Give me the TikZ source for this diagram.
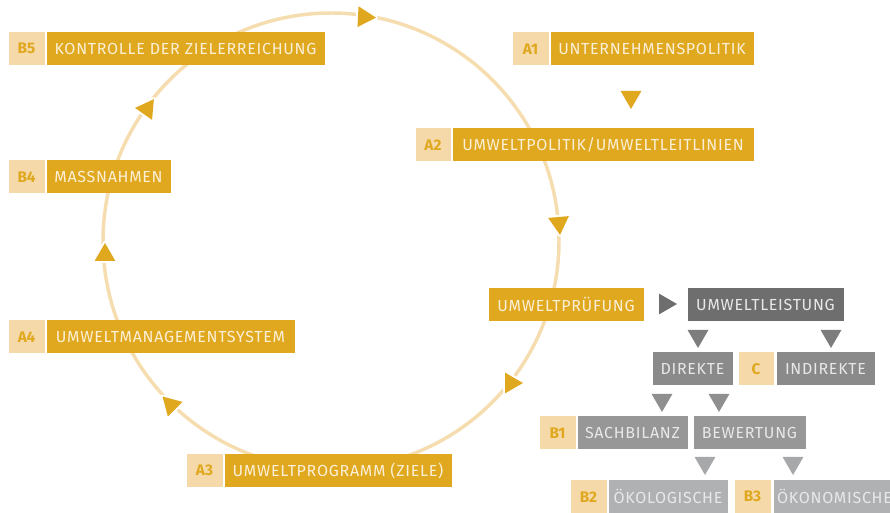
\documentclass[tikz,border=0pt]{standalone}
\usepackage{fontspec}
\setmainfont{Fira Sans}
\newfontfamily\boxfont{Fira Sans}[LetterSpace=4.5]
\definecolor{gold}{HTML}{E0A81F}
\definecolor{goldlight}{HTML}{F5D9A8}
\definecolor{ringcol}{HTML}{F6DDB0}
\definecolor{cream}{HTML}{FBEFD6}
\definecolor{grayA}{HTML}{6E6E6E}
\definecolor{grayB}{HTML}{8A8A8A}
\definecolor{grayC}{HTML}{979797}
\definecolor{grayD}{HTML}{B0B1B3}
\definecolor{grayT}{HTML}{E8E8E8}

\tikzset{every picture/.style={line width=0.75pt}}
\tikzset{
  box/.style={anchor=north west, inner sep=0pt, minimum height=32.5*0.75pt, font=\boxfont\fontsize{12}{14}\selectfont},
  w/.style={minimum width=#1*0.75pt},
  tag/.style={box, fill=goldlight, text=gold, font=\fontsize{11.5}{14}\selectfont\bfseries},
  goldbox/.style={box, fill=gold, text=cream},
  darkbox/.style={box, fill=grayA, text=grayT},
  midbox/.style={box, fill=grayB, text=grayT},
  greybox/.style={box, fill=grayC, text=grayT},
  palebox/.style={box, fill=grayD, text=grayT},
  ring/.style={draw=ringcol, line width=2.6pt},
  % triangle tip, rotate = angle measured clockwise on screen (negated)
  pics/tri/.style={code={
    \draw[white, line width=3pt, line join=round] (0:12) -- (120:12) -- (240:12) -- cycle;
    \path[pic actions] (0:12) -- (120:12) -- (240:12) -- cycle;
  }}
}

\begin{document}
\begin{tikzpicture}[x=0.75pt,y=0.75pt,yscale=-1,xscale=1]
    \useasboundingbox (0,0) rectangle (890,513);

    % Cycle
    \draw[ring] (331,241) circle (228);

    % Arrows on the cycle
    \pic[fill=gold, rotate=-3] at (364,17) {tri};
    \pic[fill=gold, rotate=-85] at (559,223) {tri};
    \pic[fill=gold, rotate=0] at (511,383) {tri};
    \pic[fill=gold, rotate=-225] at (171,405) {tri};
    \pic[fill=gold, rotate=-270] at (105,255) {tri};
    \pic[fill=gold, rotate=-185] at (147,109) {tri};

    % Steps A
    \node[tag, w=36] (tagA1) at (512,32) {A1};
    \node[goldbox, w=203] (politik) at (550,32) {UNTERNEHMENSPOLITIK};
    \pic[fill=gold, rotate=-90] at (631,97) {tri};
    \node[tag, w=35] (tagA2) at (415,128) {A2};
    \node[goldbox, w=301] (leitlinien) at (452,128) {UMWELTPOLITIK/UMWELTLEITLINIEN};
    \node[goldbox, w=155] (pruefung) at (488,288) {UMWELTPRÜFUNG};
    \node[tag, w=36] (tagA3) at (186,454) {A3};
    \node[goldbox, w=227] (programm) at (224,454) {UMWELTPROGRAMM (ZIELE)};
    \node[tag, w=36] (tagA4) at (8,320) {A4};
    \node[goldbox, w=248] (system) at (46,320) {UMWELTMANAGEMENTSYSTEM};

    % Steps B
    \node[tag, w=36] (tagB4) at (8,160) {B4};
    \node[goldbox, w=124] (massnahmen) at (46,160) {MASSNAHMEN};
    \node[tag, w=36] (tagB5) at (8,32) {B5};
    \node[goldbox, w=278] (kontrolle) at (46,32) {KONTROLLE DER ZIELERREICHUNG};

    % Review of performance
    \pic[fill=grayA, rotate=0] at (665,304) {tri};
    \node[darkbox, w=156] (leistung) at (687,288) {UMWELTLEISTUNG};
    \pic[fill=grayA!90, rotate=-90] at (698,336) {tri};
    \pic[fill=grayA!90, rotate=-90] at (831,336) {tri};
    \node[midbox, w=80] (direkte) at (652,352) {DIREKTE};
    \node[tag, w=35] (tagC) at (738,352) {C};
    \node[midbox, w=98] (indirekte) at (776,352) {INDIREKTE};
    \pic[fill=grayC!95!black, rotate=-90] at (662,400) {tri};
    \pic[fill=grayC!95!black, rotate=-90] at (719,400) {tri};
    \node[tag, w=36] (tagB1) at (539,416) {B1};
    \node[greybox, w=110] (sachbilanz) at (577,416) {SACHBILANZ};
    \node[greybox, w=112] (bewertung) at (693,416) {BEWERTUNG};
    \pic[fill=grayD!95!black, rotate=-90] at (705,463) {tri};
    \pic[fill=grayD!95!black, rotate=-90] at (793,463) {tri};
    \node[tag, w=36] (tagB2) at (570,480) {B2};
    \node[palebox, w=119] (oekologisch) at (608,480) {ÖKOLOGISCHE};
    \node[tag, w=36] (tagB3) at (734,480) {B3};
    \node[palebox, w=122] (oekonomisch) at (773,480) {ÖKONOMISCHE};

\end{tikzpicture}
\end{document}
